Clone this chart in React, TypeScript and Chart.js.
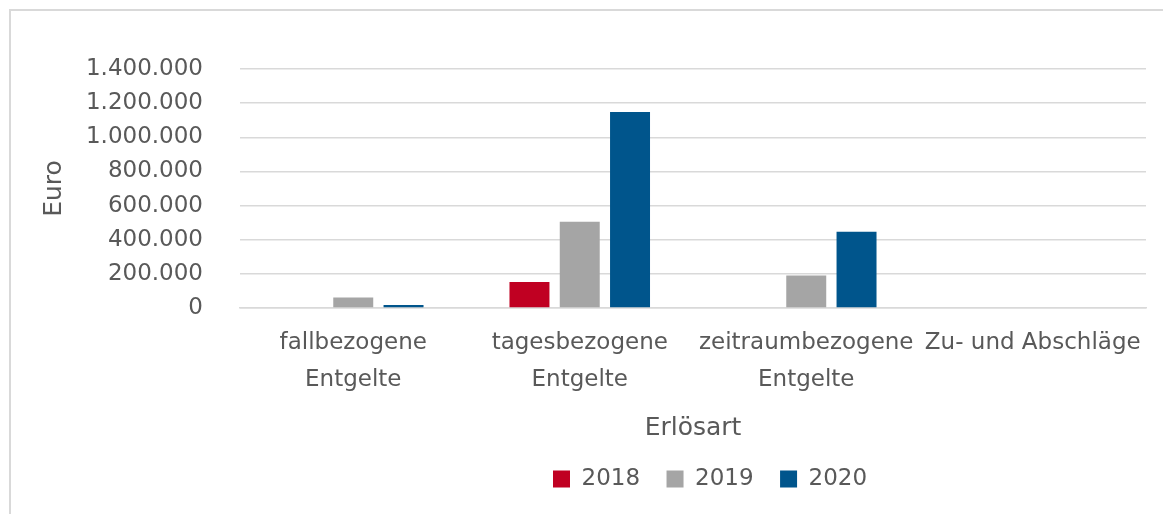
import React, { useEffect, useRef } from 'react';
import { Chart, registerables } from 'chart.js';

Chart.register(...registerables);

const categories: (string | string[])[] = [
  ['fallbezogene', 'Entgelte'],
  ['tagesbezogene', 'Entgelte'],
  ['zeitraumbezogene', 'Entgelte'],
  'Zu- und Abschläge',
];
const seriesNames = ['2018', '2019', '2020'];
const values2018 = [0, 152000, 0, 0];
const values2019 = [62000, 505000, 191000, 0];
const values2020 = [18000, 1148000, 446000, 0];
const seriesColors = ['#C00022', '#A5A5A5', '#00558C'];
const yMin = 0;
const yMax = 1400000;
const yStep = 200000;
const yTitle = 'Euro';
const xTitle = 'Erlösart';

const FONT = "'DejaVu Sans', sans-serif";
const TEXT = '#595959';
const GRID = '#d9d9d9';

function formatDE(v: number): string {
  const s = Math.round(v).toString();
  return s.replace(/\B(?=(\d{3})+(?!\d))/g, '.');
}

export default function App() {
  const ref = useRef<HTMLCanvasElement | null>(null);

  useEffect(() => {
    if (!ref.current) return;
    const legendShift = {
      id: 'legendShift',
      beforeDraw(chart: any) {
        const lg = chart.legend;
        if (lg) {
          const pad = lg.options.labels.padding;
          const w = lg.right - lg.left;
          lg.left = 553 - pad;
          lg.right = lg.left + w;
        }
      },
    };
    const chart = new Chart(ref.current, {
      type: 'bar',
      data: {
        labels: categories,
        datasets: [
          { label: seriesNames[0], data: values2018, backgroundColor: seriesColors[0] },
          { label: seriesNames[1], data: values2019, backgroundColor: seriesColors[1] },
          { label: seriesNames[2], data: values2020, backgroundColor: seriesColors[2] },
        ],
      },
      options: {
        responsive: false,
        animation: false,
        devicePixelRatio: 1,
        layout: { padding: { left: 10, right: 17, top: 69, bottom: 13.5 } },
        datasets: { bar: { categoryPercentage: 0.666, barPercentage: 0.795, borderWidth: 0 } },
        plugins: {
          tooltip: { enabled: false },
          legend: {
            position: 'bottom',
            align: 'start',
            labels: {
              boxWidth: 17,
              boxHeight: 17,
              padding: 26.5,
              color: TEXT,
              font: { family: FONT, size: 23 },
            },
          },
        },
        scales: {
          x: {
            grid: { display: false, drawTicks: false },
            border: { display: true, color: GRID, width: 1.5 },
            ticks: {
              color: TEXT,
              font: { family: FONT, size: 23, lineHeight: 37 / 23 },
              padding: 17,
              maxRotation: 0,
              minRotation: 0,
              autoSkip: false,
            },
            title: {
              display: true,
              text: xTitle,
              color: TEXT,
              font: { family: FONT, size: 25, lineHeight: 1 },
              padding: { top: 0, bottom: 0 },
            },
          },
          y: {
            min: yMin,
            max: yMax,
            grid: { color: GRID, lineWidth: 1.5, drawTicks: false },
            border: { display: false },
            ticks: {
              stepSize: yStep,
              color: TEXT,
              font: { family: FONT, size: 23 },
              padding: 37,
              callback: (v: any) => formatDE(Number(v)),
            },
            title: {
              display: true,
              text: yTitle,
              color: TEXT,
              font: { family: FONT, size: 25, lineHeight: 1 },
              padding: { top: 31.5, bottom: 0 },
            },
            afterFit(scale: any) {
              scale.width = 230;
            },
          },
        },
      },
      plugins: [legendShift],
    } as any);
    return () => chart.destroy();
  }, []);

  return (
    <div style={{ position: 'fixed', left: 0, top: 0, width: 1163, height: 514, background: '#fff', overflow: 'hidden' }}>
      <div
        style={{
          position: 'absolute',
          left: 9,
          top: 9,
          width: 1300,
          height: 700,
          border: '2px solid #d9d9d9',
          boxSizing: 'border-box',
        }}
      />
      <canvas ref={ref} width={1163} height={514} style={{ position: 'absolute', left: 0, top: 0 }} />
    </div>
  );
}
